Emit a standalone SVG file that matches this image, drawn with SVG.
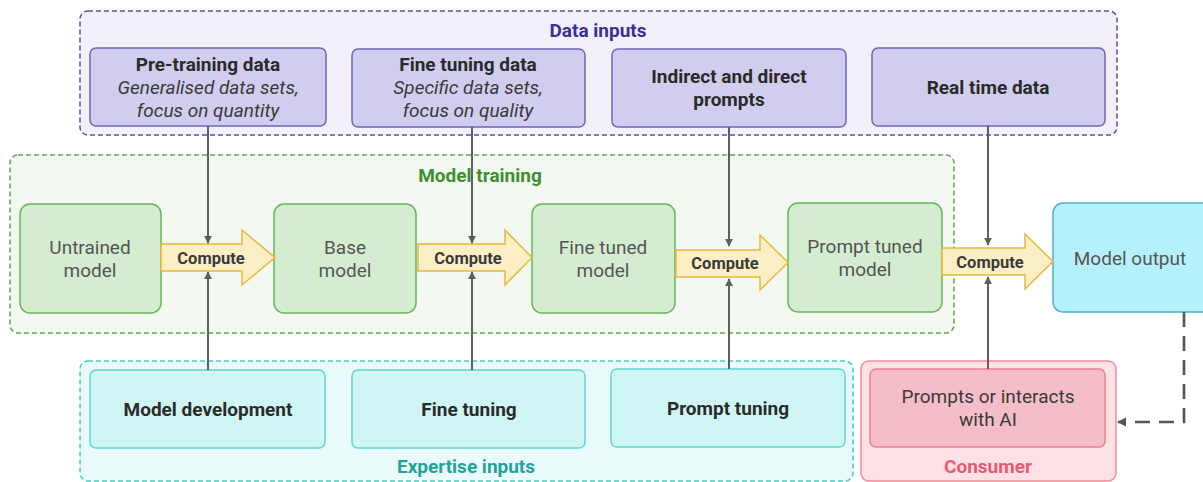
<svg xmlns="http://www.w3.org/2000/svg" width="1203" height="482" viewBox="0 0 1203 482">
<defs>
<marker id="ah" viewBox="0 0 10 10" refX="9" refY="5" markerWidth="4" markerHeight="4" orient="auto" markerUnits="strokeWidth">
<path d="M0,0 L10,5 L0,10 Z" fill="#5f5f5f"/>
</marker>
<marker id="ah2" viewBox="0 0 10 10" refX="9" refY="5" markerWidth="3.6" markerHeight="3.6" orient="auto" markerUnits="strokeWidth">
<path d="M0,0 L10,5 L0,10 Z" fill="#555"/>
</marker>
<style>
text{font-family:Roboto,"Liberation Sans",sans-serif;text-anchor:middle}
.grp-data{fill:#f2f1fb;stroke:#5b4fb0;stroke-width:1.5;stroke-dasharray:5 3}
.grp-train{fill:#f3f9f1;stroke:#5aa84a;stroke-width:1.5;stroke-dasharray:5 3}
.grp-exp{fill:#e9fbfb;stroke:#3fd0cc;stroke-width:1.5;stroke-dasharray:5 3}
.grp-cons{fill:#fde1e5;stroke:#f08a98;stroke-width:1.5}
.dbox{fill:#d0cdee;stroke:#6f66b8;stroke-width:1.5}
.gbox{fill:#d4edd0;stroke:#6bb25e;stroke-width:1.5}
.ebox{fill:#cff6f4;stroke:#5fd8d2;stroke-width:1.5}
.cbox{fill:#f5bdc7;stroke:#ee7f8f;stroke-width:1.5}
.obox{fill:#b5f1fc;stroke:#4bb0cc;stroke-width:1.5}
.arrow{fill:#fcefc5;stroke:#e6b93a;stroke-width:1.5}
.t-title{font-size:19px;font-weight:bold;fill:#2a2a2a}
.t-it{font-size:19px;font-style:italic;fill:#3a3a3a}
.t-node{font-size:19px;fill:#555}
.t-comp{font-size:16.5px;font-weight:bold;fill:#3a3a3a}
.t-exp{font-size:19px;font-weight:bold;fill:#2a2a2a}
.t-cons{font-size:19px;fill:#3a3a3a}
.lbl{font-size:19px;font-weight:bold}
.conn{stroke:#5f5f5f;stroke-width:2;fill:none}
</style>
</defs>

<g id="group-data-inputs">
<rect class="grp-data" x="80" y="11" width="1037" height="124" rx="8"/>
<text class="lbl" x="598" y="37" fill="#3b2f9a">Data inputs</text>
</g>
<g id="group-model-training">
<rect class="grp-train" x="10" y="155" width="944" height="178" rx="8"/>
<text class="lbl" x="480" y="182" fill="#3d8f2e">Model  training</text>
</g>
<g id="group-expertise-inputs">
<rect class="grp-exp" x="80" y="361" width="773" height="120" rx="8"/>
<text class="lbl" x="466" y="473" fill="#1fa39a">Expertise inputs</text>
</g>
<g id="group-consumer">
<rect class="grp-cons" x="861" y="361" width="255" height="120" rx="8"/>
<text class="lbl" x="988" y="473" fill="#ea5a70">Consumer</text>
</g>

<g id="node-pretraining-data">
<rect class="dbox" x="90" y="48" width="236" height="78" rx="6"/>
<text class="t-title" x="208" y="71">Pre-training data</text>
<text class="t-it" x="208" y="94">Generalised data sets,</text>
<text class="t-it" x="208" y="117">focus on quantity</text>
</g>
<g id="node-finetuning-data">
<rect class="dbox" x="352" y="49" width="233" height="78" rx="6"/>
<text class="t-title" x="468" y="71">Fine tuning data</text>
<text class="t-it" x="468" y="94">Specific data sets,</text>
<text class="t-it" x="468" y="117">focus on quality</text>
</g>
<g id="node-prompts">
<rect class="dbox" x="612" y="49" width="234" height="78" rx="6"/>
<text class="t-title" x="729" y="83">Indirect and direct</text>
<text class="t-title" x="729" y="106">prompts</text>
</g>
<g id="node-realtime-data">
<rect class="dbox" x="872" y="48" width="233" height="78" rx="6"/>
<text class="t-title" x="988" y="94">Real time data</text>
</g>

<g id="node-untrained-model">
<rect class="gbox" x="20" y="204" width="141" height="109" rx="10"/>
<text class="t-node" x="90" y="254">Untrained</text>
<text class="t-node" x="90" y="277">model</text>
</g>
<g id="node-base-model">
<rect class="gbox" x="274" y="204" width="142" height="109" rx="10"/>
<text class="t-node" x="345" y="254">Base</text>
<text class="t-node" x="345" y="277">model</text>
</g>
<g id="node-finetuned-model">
<rect class="gbox" x="532" y="204" width="143" height="109" rx="10"/>
<text class="t-node" x="603" y="254">Fine tuned</text>
<text class="t-node" x="603" y="277">model</text>
</g>
<g id="node-prompttuned-model">
<rect class="gbox" x="788" y="203" width="154" height="109" rx="10"/>
<text class="t-node" x="865" y="253">Prompt tuned</text>
<text class="t-node" x="865" y="276">model</text>
</g>
<g id="node-model-output">
<rect class="obox" x="1053" y="203" width="160" height="109" rx="10"/>
<text class="t-node" x="1130" y="265">Model output</text>
</g>

<g id="node-compute-1">
<path class="arrow" d="M161,244 H242 V230 L275,257.5 L242,285 V271 H161 Z"/>
<text class="t-comp" x="211" y="263.5">Compute</text>
</g>
<g id="node-compute-2">
<path class="arrow" d="M418,244 H505 V230 L532,257.5 L505,285 V271 H418 Z"/>
<text class="t-comp" x="468" y="263.5">Compute</text>
</g>
<g id="node-compute-3">
<path class="arrow" d="M676,250 H760 V235 L788,262.5 L760,290 V277 H676 Z"/>
<text class="t-comp" x="725" y="269">Compute</text>
</g>
<g id="node-compute-4">
<path class="arrow" d="M942,248 H1025 V234 L1053,261.5 L1025,289 V275 H942 Z"/>
<text class="t-comp" x="990" y="267.5">Compute</text>
</g>

<g id="node-model-development">
<rect class="ebox" x="90" y="370" width="235" height="78" rx="6"/>
<text class="t-exp" x="208" y="416">Model development</text>
</g>
<g id="node-fine-tuning">
<rect class="ebox" x="352" y="370" width="233" height="78" rx="6"/>
<text class="t-exp" x="469" y="416">Fine tuning</text>
</g>
<g id="node-prompt-tuning">
<rect class="ebox" x="611" y="369" width="234" height="78" rx="6"/>
<text class="t-exp" x="728" y="415">Prompt tuning</text>
</g>
<g id="node-prompts-interacts">
<rect class="cbox" x="870" y="369" width="235" height="78" rx="6"/>
<text class="t-cons" x="988" y="403">Prompts or interacts</text>
<text class="t-cons" x="988" y="426">with AI</text>
</g>

<g id="connectors">
<line class="conn" x1="208" y1="126" x2="208" y2="243" marker-end="url(#ah)"/>
<line class="conn" x1="208" y1="370" x2="208" y2="272" marker-end="url(#ah)"/>
<line class="conn" x1="472" y1="127" x2="472" y2="243" marker-end="url(#ah)"/>
<line class="conn" x1="472" y1="370" x2="472" y2="272" marker-end="url(#ah)"/>
<line class="conn" x1="729" y1="127" x2="729" y2="246" marker-end="url(#ah)"/>
<line class="conn" x1="729" y1="369" x2="729" y2="279" marker-end="url(#ah)"/>
<line class="conn" x1="988" y1="126" x2="988" y2="245" marker-end="url(#ah)"/>
<line class="conn" x1="988" y1="369" x2="988" y2="277" marker-end="url(#ah)"/>
<path d="M1184,312 V422 H1118" fill="none" stroke="#555" stroke-width="2.6" stroke-dasharray="15 9" marker-end="url(#ah2)"/>
</g>
</svg>
